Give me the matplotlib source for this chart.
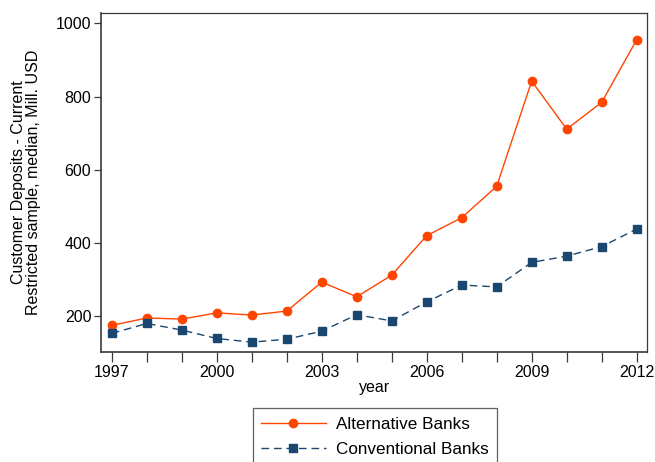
import matplotlib
matplotlib.use("Agg")
import matplotlib.pyplot as plt
from matplotlib.ticker import MultipleLocator

plt.rcParams['font.family'] = ['Liberation Sans', 'DejaVu Sans']

years = list(range(1997, 2013))
alternative = [175, 195, 192, 209, 203, 214, 293, 253, 312, 420, 469, 555, 842, 711, 784, 955]
conventional = [153, 180, 162, 139, 129, 137, 159, 204, 187, 239, 285, 280, 347, 364, 390, 438]
x_ticks = [1997, 2000, 2003, 2006, 2009, 2012]
y_ticks = [200, 400, 600, 800, 1000]

orange = '#FF4500'
navy = '#1A476F'
frame = '#3a3a3a'

fig = plt.figure(figsize=(6.55, 4.62), dpi=100)
ax = fig.add_axes([0.1542, 0.238, 0.988 - 0.1542, 0.9725 - 0.238])

ax.plot(years, alternative, color=orange, lw=1.0, marker='o', ms=6,
        label='Alternative Banks', zorder=3)
ax.plot(years, conventional, color=navy, lw=1.0, marker='s', ms=5.8,
        dashes=(5.5, 3.5), label='Conventional Banks', zorder=3)

ax.set_xlim(1996.69, 2012.3)
ax.set_ylim(102, 1029)
ax.set_xticks(x_ticks)
ax.xaxis.set_minor_locator(MultipleLocator(1))
ax.set_yticks(y_ticks)

for s in ax.spines.values():
    s.set_color(frame)
    s.set_linewidth(0.9)
ax.spines['left'].set_linewidth(1.2)
ax.spines['bottom'].set_linewidth(1.2)

ax.tick_params(axis='both', which='both', direction='out', colors=frame,
               labelcolor='black', labelsize=11.5, width=0.9)
ax.tick_params(axis='x', which='both', length=7, pad=2)
ax.tick_params(axis='y', length=5, pad=2)

ax.set_xlabel('year', fontsize=11.5, labelpad=0)
ax.set_ylabel('Customer Deposits - Current\nRestricted sample, median, Mill. USD',
              fontsize=11.5, labelpad=11, linespacing=1.0)

leg = fig.legend(loc='upper center', bbox_to_anchor=(375 / 655, 1 - 408 / 462),
                 prop={'size': 12.3}, frameon=True, fancybox=False, edgecolor=frame,
                 handlelength=3.75, borderpad=0.5, labelspacing=0.6,
                 handletextpad=0.6, borderaxespad=0)
leg.get_frame().set_linewidth(0.9)

fig.savefig('out.png', dpi=100)
